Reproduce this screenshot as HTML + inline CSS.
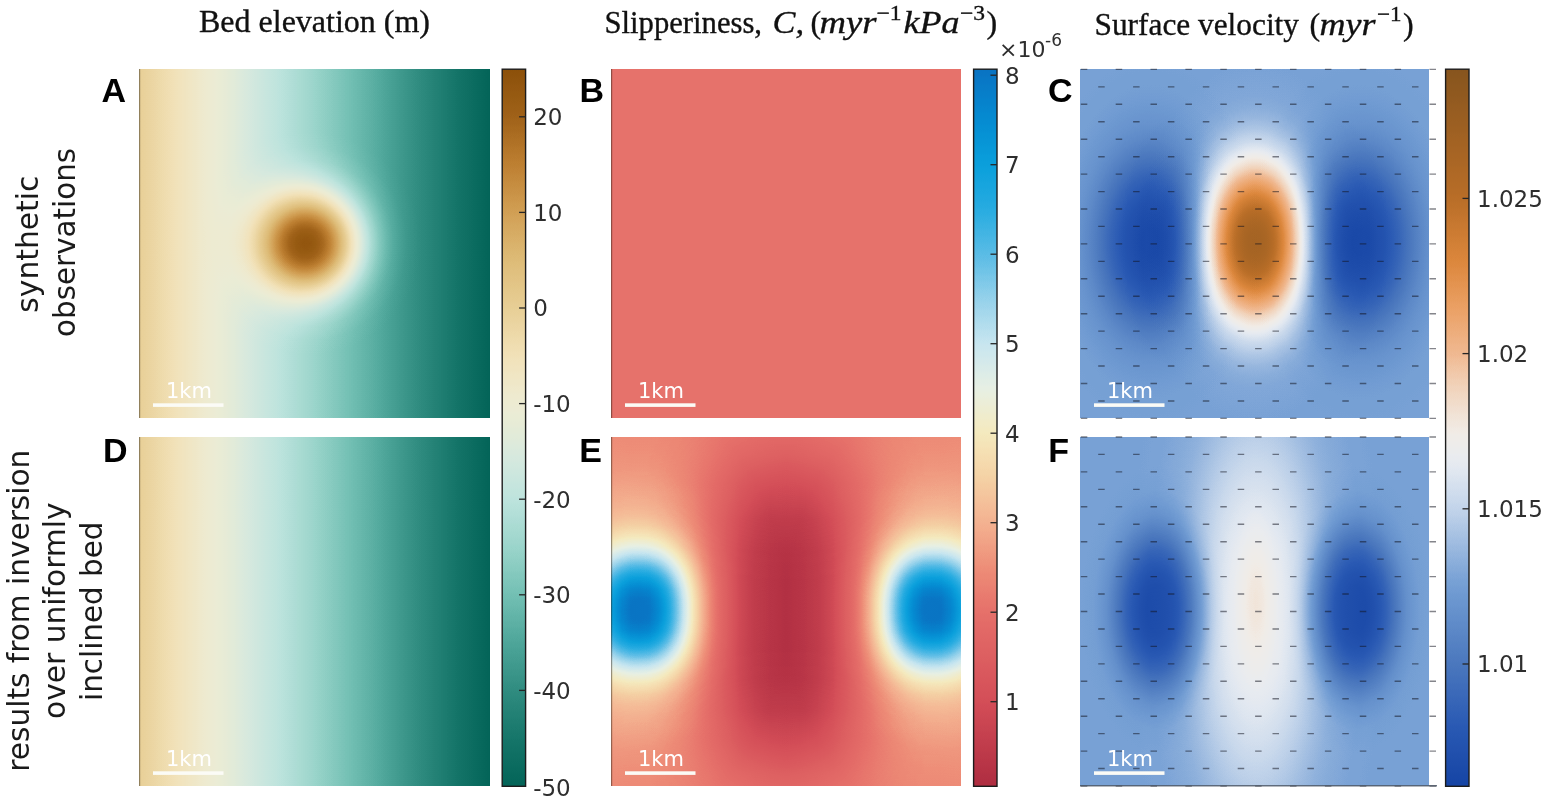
<!DOCTYPE html>
<html><head><meta charset="utf-8"><title>Figure</title><style>
html,body{margin:0;padding:0;background:#fff;overflow:hidden}
body{width:1547px;height:802px;overflow:hidden;position:relative}
svg{position:absolute;left:0;top:0;display:block}
.ti{font-family:"Liberation Serif",serif;font-size:32px;fill:#111;stroke:#111;stroke-width:0.35px}
.tk{font-family:"DejaVu Sans","Liberation Sans",sans-serif;font-size:23px;fill:#2e2e2e}
.pl{font-family:"Liberation Sans",sans-serif;font-weight:bold;font-size:34px;fill:#000}
.rl{font-family:"DejaVu Sans","Liberation Sans",sans-serif;font-size:29.5px;fill:#1a1a1a}
.sb{font-family:"DejaVu Sans","Liberation Sans",sans-serif;font-size:21px;fill:#fff;text-anchor:middle}
</style></head>
<body><svg width="1547" height="802" viewBox="0 0 1547 802">
<defs><filter id="cmA" color-interpolation-filters="sRGB" x="0" y="0" width="1" height="1" filterUnits="objectBoundingBox"><feComponentTransfer><feFuncR type="table" tableValues="0.0118 0.0295 0.0472 0.0650 0.0827 0.1057 0.1300 0.1542 0.1785 0.2050 0.2331 0.2611 0.2891 0.3197 0.3542 0.3888 0.4233 0.4585 0.4958 0.5331 0.5705 0.6078 0.6405 0.6732 0.7059 0.7386 0.7660 0.7922 0.8183 0.8444 0.8683 0.8908 0.9094 0.9244 0.9348 0.9386 0.9423 0.9460 0.9472 0.9378 0.9285 0.9191 0.9098 0.9005 0.8911 0.8818 0.8725 0.8616 0.8504 0.8392 0.8280 0.8123 0.7937 0.7750 0.7563 0.7339 0.7059 0.6779 0.6499 0.6237 0.6050 0.5864 0.5677 0.5490"/><feFuncG type="table" tableValues="0.3922 0.4090 0.4258 0.4426 0.4594 0.4792 0.4997 0.5203 0.5408 0.5636 0.5879 0.6121 0.6364 0.6607 0.6850 0.7092 0.7335 0.7569 0.7765 0.7961 0.8157 0.8353 0.8493 0.8633 0.8773 0.8913 0.8986 0.9042 0.9098 0.9154 0.9199 0.9236 0.9255 0.9255 0.9218 0.9124 0.9031 0.8937 0.8827 0.8650 0.8472 0.8295 0.8118 0.7940 0.7763 0.7585 0.7408 0.7163 0.6902 0.6641 0.6379 0.6095 0.5796 0.5498 0.5199 0.4908 0.4627 0.4347 0.4067 0.3811 0.3653 0.3494 0.3335 0.3176"/><feFuncB type="table" tableValues="0.3451 0.3619 0.3787 0.3955 0.4123 0.4321 0.4527 0.4732 0.4937 0.5165 0.5408 0.5651 0.5894 0.6136 0.6379 0.6622 0.6865 0.7102 0.7317 0.7531 0.7746 0.7961 0.8138 0.8316 0.8493 0.8670 0.8706 0.8706 0.8706 0.8706 0.8627 0.8497 0.8403 0.8347 0.8213 0.7961 0.7709 0.7457 0.7190 0.6863 0.6536 0.6209 0.5882 0.5602 0.5322 0.5042 0.4762 0.4444 0.4118 0.3791 0.3464 0.3137 0.2810 0.2484 0.2157 0.1867 0.1634 0.1401 0.1167 0.0952 0.0812 0.0672 0.0532 0.0392"/></feComponentTransfer></filter>
<filter id="cmB" color-interpolation-filters="sRGB" x="0" y="0" width="1" height="1" filterUnits="objectBoundingBox"><feComponentTransfer><feFuncR type="table" tableValues="0.6863 0.7059 0.7255 0.7452 0.7648 0.7844 0.8040 0.8237 0.8368 0.8458 0.8548 0.8637 0.8727 0.8817 0.8907 0.8996 0.9079 0.9159 0.9238 0.9318 0.9382 0.9442 0.9501 0.9561 0.9577 0.9587 0.9597 0.9607 0.9608 0.9608 0.9608 0.9606 0.9477 0.9347 0.9217 0.9073 0.8754 0.8435 0.8116 0.7770 0.7272 0.6773 0.6275 0.5755 0.5156 0.4558 0.3960 0.3389 0.2891 0.2392 0.1894 0.1464 0.1165 0.0866 0.0567 0.0371 0.0322 0.0272 0.0222 0.0217 0.0261 0.0305 0.0348 0.0392"/><feFuncG type="table" tableValues="0.1765 0.1940 0.2115 0.2290 0.2465 0.2640 0.2815 0.2990 0.3162 0.3331 0.3501 0.3670 0.3840 0.4009 0.4179 0.4348 0.4614 0.4913 0.5212 0.5511 0.5859 0.6218 0.6577 0.6936 0.7260 0.7579 0.7898 0.8217 0.8461 0.8701 0.8940 0.9177 0.9237 0.9297 0.9357 0.9404 0.9304 0.9204 0.9105 0.8990 0.8791 0.8592 0.8392 0.8188 0.7969 0.7750 0.7530 0.7328 0.7168 0.7009 0.6849 0.6703 0.6584 0.6464 0.6344 0.6192 0.5992 0.5793 0.5593 0.5385 0.5166 0.4947 0.4728 0.4510"/><feFuncB type="table" tableValues="0.2549 0.2671 0.2793 0.2915 0.3037 0.3159 0.3281 0.3403 0.3505 0.3595 0.3685 0.3775 0.3864 0.3954 0.4044 0.4134 0.4260 0.4400 0.4540 0.4679 0.4908 0.5157 0.5406 0.5655 0.5861 0.6061 0.6260 0.6459 0.6706 0.6955 0.7204 0.7455 0.7834 0.8213 0.8592 0.8951 0.9070 0.9190 0.9310 0.9404 0.9355 0.9305 0.9255 0.9205 0.9155 0.9105 0.9055 0.9006 0.8956 0.8906 0.8856 0.8806 0.8756 0.8706 0.8657 0.8586 0.8486 0.8387 0.8287 0.8172 0.8041 0.7909 0.7778 0.7647"/></feComponentTransfer></filter>
<filter id="cmC" color-interpolation-filters="sRGB" x="0" y="0" width="1" height="1" filterUnits="objectBoundingBox"><feComponentTransfer><feFuncR type="table" tableValues="0.0863 0.1010 0.1158 0.1306 0.1453 0.1601 0.1810 0.2048 0.2285 0.2522 0.2760 0.2996 0.3226 0.3456 0.3686 0.3917 0.4147 0.4377 0.4705 0.5166 0.5626 0.6087 0.6547 0.7008 0.7468 0.7864 0.8219 0.8574 0.8929 0.9174 0.9317 0.9461 0.9490 0.9490 0.9490 0.9490 0.9470 0.9441 0.9412 0.9364 0.9316 0.9268 0.9220 0.9086 0.8942 0.8798 0.8654 0.8423 0.8171 0.7919 0.7667 0.7415 0.7192 0.7020 0.6847 0.6675 0.6502 0.6329 0.6157 0.5984 0.5812 0.5639 0.5467 0.5294"/><feFuncG type="table" tableValues="0.2667 0.2829 0.2991 0.3154 0.3316 0.3478 0.3678 0.3893 0.4109 0.4325 0.4541 0.4758 0.4976 0.5195 0.5414 0.5633 0.5851 0.6070 0.6330 0.6647 0.6964 0.7280 0.7597 0.7913 0.8230 0.8488 0.8709 0.8929 0.9150 0.9255 0.9255 0.9255 0.9055 0.8806 0.8556 0.8307 0.7979 0.7619 0.7259 0.7018 0.6778 0.6538 0.6298 0.6059 0.5819 0.5579 0.5339 0.5148 0.4968 0.4788 0.4608 0.4428 0.4282 0.4196 0.4110 0.4024 0.3937 0.3851 0.3765 0.3678 0.3592 0.3506 0.3420 0.3333"/><feFuncB type="table" tableValues="0.6471 0.6581 0.6692 0.6803 0.6913 0.7024 0.7108 0.7180 0.7252 0.7324 0.7396 0.7481 0.7608 0.7734 0.7861 0.7988 0.8114 0.8241 0.8370 0.8502 0.8635 0.8767 0.8900 0.9032 0.9164 0.9257 0.9324 0.9391 0.9458 0.9400 0.9227 0.9054 0.8674 0.8243 0.7811 0.7379 0.6845 0.6269 0.5693 0.5260 0.4828 0.4396 0.3965 0.3576 0.3192 0.2809 0.2425 0.2236 0.2092 0.1948 0.1804 0.1660 0.1556 0.1522 0.1487 0.1453 0.1418 0.1384 0.1349 0.1315 0.1280 0.1245 0.1211 0.1176"/></feComponentTransfer></filter>
<linearGradient id="l1" x1="0" y1="0" x2="1" y2="0"><stop offset="0.0000" stop-color="rgb(170,170,170)"/><stop offset="0.0833" stop-color="rgb(156,156,156)"/><stop offset="0.1667" stop-color="rgb(142,142,142)"/><stop offset="0.2500" stop-color="rgb(128,128,128)"/><stop offset="0.3333" stop-color="rgb(113,113,113)"/><stop offset="0.4167" stop-color="rgb(99,99,99)"/><stop offset="0.5000" stop-color="rgb(85,85,85)"/><stop offset="0.5833" stop-color="rgb(71,71,71)"/><stop offset="0.6667" stop-color="rgb(57,57,57)"/><stop offset="0.7500" stop-color="rgb(42,42,42)"/><stop offset="0.8333" stop-color="rgb(28,28,28)"/><stop offset="0.9167" stop-color="rgb(14,14,14)"/><stop offset="1.0000" stop-color="rgb(0,0,0)"/></linearGradient>
<clipPath id="clipA1"><rect x="139" y="69" width="351" height="349"/></clipPath>
<radialGradient id="g2"><stop offset="0.000" stop-color="rgb(162,162,162)"/><stop offset="0.062" stop-color="rgb(159,159,159)"/><stop offset="0.125" stop-color="rgb(152,152,152)"/><stop offset="0.188" stop-color="rgb(140,140,140)"/><stop offset="0.250" stop-color="rgb(124,124,124)"/><stop offset="0.312" stop-color="rgb(105,105,105)"/><stop offset="0.375" stop-color="rgb(84,84,84)"/><stop offset="0.438" stop-color="rgb(65,65,65)"/><stop offset="0.500" stop-color="rgb(48,48,48)"/><stop offset="0.562" stop-color="rgb(33,33,33)"/><stop offset="0.625" stop-color="rgb(22,22,22)"/><stop offset="0.688" stop-color="rgb(14,14,14)"/><stop offset="0.750" stop-color="rgb(8,8,8)"/><stop offset="0.812" stop-color="rgb(5,5,5)"/><stop offset="0.875" stop-color="rgb(2,2,2)"/><stop offset="0.938" stop-color="rgb(1,1,1)"/><stop offset="1.000" stop-color="rgb(0,0,0)"/></radialGradient>
<clipPath id="clipA2"><rect x="139" y="437" width="351" height="349"/></clipPath>
<clipPath id="clipB1"><rect x="611" y="69" width="350" height="349"/></clipPath>
<clipPath id="clipB2"><rect x="611" y="437" width="350" height="349"/></clipPath>
<linearGradient id="p3" x1="0" y1="0" x2="1" y2="0"><stop offset="0.0000" stop-color="rgb(0,0,0)"/><stop offset="0.0417" stop-color="rgb(0,0,0)"/><stop offset="0.0833" stop-color="rgb(2,2,2)"/><stop offset="0.1250" stop-color="rgb(4,4,4)"/><stop offset="0.1667" stop-color="rgb(10,10,10)"/><stop offset="0.2083" stop-color="rgb(21,21,21)"/><stop offset="0.2500" stop-color="rgb(37,37,37)"/><stop offset="0.2917" stop-color="rgb(60,60,60)"/><stop offset="0.3333" stop-color="rgb(85,85,85)"/><stop offset="0.3750" stop-color="rgb(109,109,109)"/><stop offset="0.4167" stop-color="rgb(127,127,127)"/><stop offset="0.4583" stop-color="rgb(138,138,138)"/><stop offset="0.5000" stop-color="rgb(140,140,140)"/><stop offset="0.5417" stop-color="rgb(138,138,138)"/><stop offset="0.5833" stop-color="rgb(127,127,127)"/><stop offset="0.6250" stop-color="rgb(109,109,109)"/><stop offset="0.6667" stop-color="rgb(85,85,85)"/><stop offset="0.7083" stop-color="rgb(60,60,60)"/><stop offset="0.7500" stop-color="rgb(37,37,37)"/><stop offset="0.7917" stop-color="rgb(21,21,21)"/><stop offset="0.8333" stop-color="rgb(10,10,10)"/><stop offset="0.8750" stop-color="rgb(4,4,4)"/><stop offset="0.9167" stop-color="rgb(2,2,2)"/><stop offset="0.9583" stop-color="rgb(0,0,0)"/><stop offset="1.0000" stop-color="rgb(0,0,0)"/></linearGradient>
<linearGradient id="p4" x1="0" y1="0" x2="0" y2="1"><stop offset="0.0000" stop-color="rgb(0,0,0)"/><stop offset="0.0417" stop-color="rgb(1,1,1)"/><stop offset="0.0833" stop-color="rgb(3,3,3)"/><stop offset="0.1250" stop-color="rgb(8,8,8)"/><stop offset="0.1667" stop-color="rgb(18,18,18)"/><stop offset="0.2083" stop-color="rgb(38,38,38)"/><stop offset="0.2500" stop-color="rgb(68,68,68)"/><stop offset="0.2917" stop-color="rgb(109,109,109)"/><stop offset="0.3333" stop-color="rgb(155,155,155)"/><stop offset="0.3750" stop-color="rgb(198,198,198)"/><stop offset="0.4167" stop-color="rgb(232,232,232)"/><stop offset="0.4583" stop-color="rgb(250,250,250)"/><stop offset="0.5000" stop-color="rgb(255,255,255)"/><stop offset="0.5417" stop-color="rgb(250,250,250)"/><stop offset="0.5833" stop-color="rgb(232,232,232)"/><stop offset="0.6250" stop-color="rgb(198,198,198)"/><stop offset="0.6667" stop-color="rgb(155,155,155)"/><stop offset="0.7083" stop-color="rgb(109,109,109)"/><stop offset="0.7500" stop-color="rgb(68,68,68)"/><stop offset="0.7917" stop-color="rgb(38,38,38)"/><stop offset="0.8333" stop-color="rgb(18,18,18)"/><stop offset="0.8750" stop-color="rgb(8,8,8)"/><stop offset="0.9167" stop-color="rgb(3,3,3)"/><stop offset="0.9583" stop-color="rgb(1,1,1)"/><stop offset="1.0000" stop-color="rgb(0,0,0)"/></linearGradient>
<radialGradient id="g5"><stop offset="0.000" stop-color="rgb(48,48,48)"/><stop offset="0.062" stop-color="rgb(47,47,47)"/><stop offset="0.125" stop-color="rgb(45,45,45)"/><stop offset="0.188" stop-color="rgb(41,41,41)"/><stop offset="0.250" stop-color="rgb(36,36,36)"/><stop offset="0.312" stop-color="rgb(31,31,31)"/><stop offset="0.375" stop-color="rgb(25,25,25)"/><stop offset="0.438" stop-color="rgb(20,20,20)"/><stop offset="0.500" stop-color="rgb(16,16,16)"/><stop offset="0.562" stop-color="rgb(11,11,11)"/><stop offset="0.625" stop-color="rgb(8,8,8)"/><stop offset="0.688" stop-color="rgb(6,6,6)"/><stop offset="0.750" stop-color="rgb(4,4,4)"/><stop offset="0.812" stop-color="rgb(2,2,2)"/><stop offset="0.875" stop-color="rgb(2,2,2)"/><stop offset="0.938" stop-color="rgb(1,1,1)"/><stop offset="1.000" stop-color="rgb(0,0,0)"/></radialGradient>
<linearGradient id="p6" x1="0" y1="0" x2="1" y2="0"><stop offset="0.0000" stop-color="rgb(0,0,0)"/><stop offset="0.0417" stop-color="rgb(0,0,0)"/><stop offset="0.0833" stop-color="rgb(2,2,2)"/><stop offset="0.1250" stop-color="rgb(4,4,4)"/><stop offset="0.1667" stop-color="rgb(10,10,10)"/><stop offset="0.2083" stop-color="rgb(21,21,21)"/><stop offset="0.2500" stop-color="rgb(37,37,37)"/><stop offset="0.2917" stop-color="rgb(60,60,60)"/><stop offset="0.3333" stop-color="rgb(85,85,85)"/><stop offset="0.3750" stop-color="rgb(109,109,109)"/><stop offset="0.4167" stop-color="rgb(127,127,127)"/><stop offset="0.4583" stop-color="rgb(138,138,138)"/><stop offset="0.5000" stop-color="rgb(140,140,140)"/><stop offset="0.5417" stop-color="rgb(138,138,138)"/><stop offset="0.5833" stop-color="rgb(127,127,127)"/><stop offset="0.6250" stop-color="rgb(109,109,109)"/><stop offset="0.6667" stop-color="rgb(85,85,85)"/><stop offset="0.7083" stop-color="rgb(60,60,60)"/><stop offset="0.7500" stop-color="rgb(37,37,37)"/><stop offset="0.7917" stop-color="rgb(21,21,21)"/><stop offset="0.8333" stop-color="rgb(10,10,10)"/><stop offset="0.8750" stop-color="rgb(4,4,4)"/><stop offset="0.9167" stop-color="rgb(2,2,2)"/><stop offset="0.9583" stop-color="rgb(0,0,0)"/><stop offset="1.0000" stop-color="rgb(0,0,0)"/></linearGradient>
<linearGradient id="p7" x1="0" y1="0" x2="0" y2="1"><stop offset="0.0000" stop-color="rgb(0,0,0)"/><stop offset="0.0417" stop-color="rgb(1,1,1)"/><stop offset="0.0833" stop-color="rgb(3,3,3)"/><stop offset="0.1250" stop-color="rgb(8,8,8)"/><stop offset="0.1667" stop-color="rgb(18,18,18)"/><stop offset="0.2083" stop-color="rgb(38,38,38)"/><stop offset="0.2500" stop-color="rgb(68,68,68)"/><stop offset="0.2917" stop-color="rgb(109,109,109)"/><stop offset="0.3333" stop-color="rgb(155,155,155)"/><stop offset="0.3750" stop-color="rgb(198,198,198)"/><stop offset="0.4167" stop-color="rgb(232,232,232)"/><stop offset="0.4583" stop-color="rgb(250,250,250)"/><stop offset="0.5000" stop-color="rgb(255,255,255)"/><stop offset="0.5417" stop-color="rgb(250,250,250)"/><stop offset="0.5833" stop-color="rgb(232,232,232)"/><stop offset="0.6250" stop-color="rgb(198,198,198)"/><stop offset="0.6667" stop-color="rgb(155,155,155)"/><stop offset="0.7083" stop-color="rgb(109,109,109)"/><stop offset="0.7500" stop-color="rgb(68,68,68)"/><stop offset="0.7917" stop-color="rgb(38,38,38)"/><stop offset="0.8333" stop-color="rgb(18,18,18)"/><stop offset="0.8750" stop-color="rgb(8,8,8)"/><stop offset="0.9167" stop-color="rgb(3,3,3)"/><stop offset="0.9583" stop-color="rgb(1,1,1)"/><stop offset="1.0000" stop-color="rgb(0,0,0)"/></linearGradient>
<radialGradient id="g8"><stop offset="0.000" stop-color="rgb(48,48,48)"/><stop offset="0.062" stop-color="rgb(47,47,47)"/><stop offset="0.125" stop-color="rgb(45,45,45)"/><stop offset="0.188" stop-color="rgb(41,41,41)"/><stop offset="0.250" stop-color="rgb(36,36,36)"/><stop offset="0.312" stop-color="rgb(31,31,31)"/><stop offset="0.375" stop-color="rgb(25,25,25)"/><stop offset="0.438" stop-color="rgb(20,20,20)"/><stop offset="0.500" stop-color="rgb(16,16,16)"/><stop offset="0.562" stop-color="rgb(11,11,11)"/><stop offset="0.625" stop-color="rgb(8,8,8)"/><stop offset="0.688" stop-color="rgb(6,6,6)"/><stop offset="0.750" stop-color="rgb(4,4,4)"/><stop offset="0.812" stop-color="rgb(2,2,2)"/><stop offset="0.875" stop-color="rgb(2,2,2)"/><stop offset="0.938" stop-color="rgb(1,1,1)"/><stop offset="1.000" stop-color="rgb(0,0,0)"/></radialGradient>
<linearGradient id="p9" x1="0" y1="0" x2="1" y2="0"><stop offset="0.0000" stop-color="rgb(0,0,0)"/><stop offset="0.0417" stop-color="rgb(0,0,0)"/><stop offset="0.0833" stop-color="rgb(1,1,1)"/><stop offset="0.1250" stop-color="rgb(2,2,2)"/><stop offset="0.1667" stop-color="rgb(5,5,5)"/><stop offset="0.2083" stop-color="rgb(11,11,11)"/><stop offset="0.2500" stop-color="rgb(19,19,19)"/><stop offset="0.2917" stop-color="rgb(30,30,30)"/><stop offset="0.3333" stop-color="rgb(43,43,43)"/><stop offset="0.3750" stop-color="rgb(56,56,56)"/><stop offset="0.4167" stop-color="rgb(65,65,65)"/><stop offset="0.4583" stop-color="rgb(70,70,70)"/><stop offset="0.5000" stop-color="rgb(72,72,72)"/><stop offset="0.5417" stop-color="rgb(70,70,70)"/><stop offset="0.5833" stop-color="rgb(65,65,65)"/><stop offset="0.6250" stop-color="rgb(56,56,56)"/><stop offset="0.6667" stop-color="rgb(43,43,43)"/><stop offset="0.7083" stop-color="rgb(30,30,30)"/><stop offset="0.7500" stop-color="rgb(19,19,19)"/><stop offset="0.7917" stop-color="rgb(11,11,11)"/><stop offset="0.8333" stop-color="rgb(5,5,5)"/><stop offset="0.8750" stop-color="rgb(2,2,2)"/><stop offset="0.9167" stop-color="rgb(1,1,1)"/><stop offset="0.9583" stop-color="rgb(0,0,0)"/><stop offset="1.0000" stop-color="rgb(0,0,0)"/></linearGradient>
<linearGradient id="p10" x1="0" y1="0" x2="0" y2="1"><stop offset="0.0000" stop-color="rgb(0,0,0)"/><stop offset="0.0417" stop-color="rgb(0,0,0)"/><stop offset="0.0833" stop-color="rgb(0,0,0)"/><stop offset="0.1250" stop-color="rgb(0,0,0)"/><stop offset="0.1667" stop-color="rgb(1,1,1)"/><stop offset="0.2083" stop-color="rgb(6,6,6)"/><stop offset="0.2500" stop-color="rgb(30,30,30)"/><stop offset="0.2917" stop-color="rgb(83,83,83)"/><stop offset="0.3333" stop-color="rgb(155,155,155)"/><stop offset="0.3750" stop-color="rgb(214,214,214)"/><stop offset="0.4167" stop-color="rgb(245,245,245)"/><stop offset="0.4583" stop-color="rgb(254,254,254)"/><stop offset="0.5000" stop-color="rgb(255,255,255)"/><stop offset="0.5417" stop-color="rgb(254,254,254)"/><stop offset="0.5833" stop-color="rgb(245,245,245)"/><stop offset="0.6250" stop-color="rgb(214,214,214)"/><stop offset="0.6667" stop-color="rgb(155,155,155)"/><stop offset="0.7083" stop-color="rgb(83,83,83)"/><stop offset="0.7500" stop-color="rgb(30,30,30)"/><stop offset="0.7917" stop-color="rgb(6,6,6)"/><stop offset="0.8333" stop-color="rgb(1,1,1)"/><stop offset="0.8750" stop-color="rgb(0,0,0)"/><stop offset="0.9167" stop-color="rgb(0,0,0)"/><stop offset="0.9583" stop-color="rgb(0,0,0)"/><stop offset="1.0000" stop-color="rgb(0,0,0)"/></linearGradient>
<clipPath id="clipC1"><rect x="1080" y="69" width="349" height="349"/></clipPath>
<radialGradient id="g11"><stop offset="0.000" stop-color="rgb(156,156,156)"/><stop offset="0.062" stop-color="rgb(154,154,154)"/><stop offset="0.125" stop-color="rgb(148,148,148)"/><stop offset="0.188" stop-color="rgb(136,136,136)"/><stop offset="0.250" stop-color="rgb(120,120,120)"/><stop offset="0.312" stop-color="rgb(101,101,101)"/><stop offset="0.375" stop-color="rgb(81,81,81)"/><stop offset="0.438" stop-color="rgb(61,61,61)"/><stop offset="0.500" stop-color="rgb(44,44,44)"/><stop offset="0.562" stop-color="rgb(29,29,29)"/><stop offset="0.625" stop-color="rgb(19,19,19)"/><stop offset="0.688" stop-color="rgb(11,11,11)"/><stop offset="0.750" stop-color="rgb(6,6,6)"/><stop offset="0.812" stop-color="rgb(3,3,3)"/><stop offset="0.875" stop-color="rgb(2,2,2)"/><stop offset="0.938" stop-color="rgb(1,1,1)"/><stop offset="1.000" stop-color="rgb(0,0,0)"/></radialGradient>
<radialGradient id="g12"><stop offset="0.000" stop-color="rgb(65,65,65)"/><stop offset="0.062" stop-color="rgb(65,65,65)"/><stop offset="0.125" stop-color="rgb(62,62,62)"/><stop offset="0.188" stop-color="rgb(58,58,58)"/><stop offset="0.250" stop-color="rgb(51,51,51)"/><stop offset="0.312" stop-color="rgb(43,43,43)"/><stop offset="0.375" stop-color="rgb(33,33,33)"/><stop offset="0.438" stop-color="rgb(24,24,24)"/><stop offset="0.500" stop-color="rgb(16,16,16)"/><stop offset="0.562" stop-color="rgb(10,10,10)"/><stop offset="0.625" stop-color="rgb(6,6,6)"/><stop offset="0.688" stop-color="rgb(3,3,3)"/><stop offset="0.750" stop-color="rgb(1,1,1)"/><stop offset="0.812" stop-color="rgb(1,1,1)"/><stop offset="0.875" stop-color="rgb(0,0,0)"/><stop offset="0.938" stop-color="rgb(0,0,0)"/><stop offset="1.000" stop-color="rgb(0,0,0)"/></radialGradient>
<radialGradient id="g13"><stop offset="0.000" stop-color="rgb(65,65,65)"/><stop offset="0.062" stop-color="rgb(65,65,65)"/><stop offset="0.125" stop-color="rgb(62,62,62)"/><stop offset="0.188" stop-color="rgb(58,58,58)"/><stop offset="0.250" stop-color="rgb(51,51,51)"/><stop offset="0.312" stop-color="rgb(43,43,43)"/><stop offset="0.375" stop-color="rgb(33,33,33)"/><stop offset="0.438" stop-color="rgb(24,24,24)"/><stop offset="0.500" stop-color="rgb(16,16,16)"/><stop offset="0.562" stop-color="rgb(10,10,10)"/><stop offset="0.625" stop-color="rgb(6,6,6)"/><stop offset="0.688" stop-color="rgb(3,3,3)"/><stop offset="0.750" stop-color="rgb(1,1,1)"/><stop offset="0.812" stop-color="rgb(1,1,1)"/><stop offset="0.875" stop-color="rgb(0,0,0)"/><stop offset="0.938" stop-color="rgb(0,0,0)"/><stop offset="1.000" stop-color="rgb(0,0,0)"/></radialGradient>
<radialGradient id="g14"><stop offset="0.000" stop-color="rgb(7,7,7)"/><stop offset="0.062" stop-color="rgb(7,7,7)"/><stop offset="0.125" stop-color="rgb(6,6,6)"/><stop offset="0.188" stop-color="rgb(6,6,6)"/><stop offset="0.250" stop-color="rgb(5,5,5)"/><stop offset="0.312" stop-color="rgb(4,4,4)"/><stop offset="0.375" stop-color="rgb(3,3,3)"/><stop offset="0.438" stop-color="rgb(3,3,3)"/><stop offset="0.500" stop-color="rgb(2,2,2)"/><stop offset="0.562" stop-color="rgb(1,1,1)"/><stop offset="0.625" stop-color="rgb(1,1,1)"/><stop offset="0.688" stop-color="rgb(1,1,1)"/><stop offset="0.750" stop-color="rgb(0,0,0)"/><stop offset="0.812" stop-color="rgb(0,0,0)"/><stop offset="0.875" stop-color="rgb(0,0,0)"/><stop offset="0.938" stop-color="rgb(0,0,0)"/><stop offset="1.000" stop-color="rgb(0,0,0)"/></radialGradient>
<radialGradient id="g15"><stop offset="0.000" stop-color="rgb(7,7,7)"/><stop offset="0.062" stop-color="rgb(7,7,7)"/><stop offset="0.125" stop-color="rgb(6,6,6)"/><stop offset="0.188" stop-color="rgb(6,6,6)"/><stop offset="0.250" stop-color="rgb(5,5,5)"/><stop offset="0.312" stop-color="rgb(4,4,4)"/><stop offset="0.375" stop-color="rgb(3,3,3)"/><stop offset="0.438" stop-color="rgb(3,3,3)"/><stop offset="0.500" stop-color="rgb(2,2,2)"/><stop offset="0.562" stop-color="rgb(1,1,1)"/><stop offset="0.625" stop-color="rgb(1,1,1)"/><stop offset="0.688" stop-color="rgb(1,1,1)"/><stop offset="0.750" stop-color="rgb(0,0,0)"/><stop offset="0.812" stop-color="rgb(0,0,0)"/><stop offset="0.875" stop-color="rgb(0,0,0)"/><stop offset="0.938" stop-color="rgb(0,0,0)"/><stop offset="1.000" stop-color="rgb(0,0,0)"/></radialGradient>
<clipPath id="clipC2"><rect x="1080" y="437" width="349" height="349"/></clipPath>
<radialGradient id="g16"><stop offset="0.000" stop-color="rgb(49,49,49)"/><stop offset="0.062" stop-color="rgb(48,48,48)"/><stop offset="0.125" stop-color="rgb(46,46,46)"/><stop offset="0.188" stop-color="rgb(43,43,43)"/><stop offset="0.250" stop-color="rgb(38,38,38)"/><stop offset="0.312" stop-color="rgb(32,32,32)"/><stop offset="0.375" stop-color="rgb(25,25,25)"/><stop offset="0.438" stop-color="rgb(19,19,19)"/><stop offset="0.500" stop-color="rgb(13,13,13)"/><stop offset="0.562" stop-color="rgb(8,8,8)"/><stop offset="0.625" stop-color="rgb(5,5,5)"/><stop offset="0.688" stop-color="rgb(3,3,3)"/><stop offset="0.750" stop-color="rgb(1,1,1)"/><stop offset="0.812" stop-color="rgb(1,1,1)"/><stop offset="0.875" stop-color="rgb(0,0,0)"/><stop offset="0.938" stop-color="rgb(0,0,0)"/><stop offset="1.000" stop-color="rgb(0,0,0)"/></radialGradient>
<radialGradient id="g17"><stop offset="0.000" stop-color="rgb(9,9,9)"/><stop offset="0.062" stop-color="rgb(9,9,9)"/><stop offset="0.125" stop-color="rgb(8,8,8)"/><stop offset="0.188" stop-color="rgb(8,8,8)"/><stop offset="0.250" stop-color="rgb(7,7,7)"/><stop offset="0.312" stop-color="rgb(6,6,6)"/><stop offset="0.375" stop-color="rgb(5,5,5)"/><stop offset="0.438" stop-color="rgb(4,4,4)"/><stop offset="0.500" stop-color="rgb(3,3,3)"/><stop offset="0.562" stop-color="rgb(2,2,2)"/><stop offset="0.625" stop-color="rgb(2,2,2)"/><stop offset="0.688" stop-color="rgb(1,1,1)"/><stop offset="0.750" stop-color="rgb(1,1,1)"/><stop offset="0.812" stop-color="rgb(0,0,0)"/><stop offset="0.875" stop-color="rgb(0,0,0)"/><stop offset="0.938" stop-color="rgb(0,0,0)"/><stop offset="1.000" stop-color="rgb(0,0,0)"/></radialGradient>
<radialGradient id="g18"><stop offset="0.000" stop-color="rgb(67,67,67)"/><stop offset="0.062" stop-color="rgb(67,67,67)"/><stop offset="0.125" stop-color="rgb(66,66,66)"/><stop offset="0.188" stop-color="rgb(62,62,62)"/><stop offset="0.250" stop-color="rgb(54,54,54)"/><stop offset="0.312" stop-color="rgb(45,45,45)"/><stop offset="0.375" stop-color="rgb(33,33,33)"/><stop offset="0.438" stop-color="rgb(22,22,22)"/><stop offset="0.500" stop-color="rgb(12,12,12)"/><stop offset="0.562" stop-color="rgb(6,6,6)"/><stop offset="0.625" stop-color="rgb(2,2,2)"/><stop offset="0.688" stop-color="rgb(1,1,1)"/><stop offset="0.750" stop-color="rgb(0,0,0)"/><stop offset="0.812" stop-color="rgb(0,0,0)"/><stop offset="0.875" stop-color="rgb(0,0,0)"/><stop offset="0.938" stop-color="rgb(0,0,0)"/><stop offset="1.000" stop-color="rgb(0,0,0)"/></radialGradient>
<radialGradient id="g19"><stop offset="0.000" stop-color="rgb(67,67,67)"/><stop offset="0.062" stop-color="rgb(67,67,67)"/><stop offset="0.125" stop-color="rgb(66,66,66)"/><stop offset="0.188" stop-color="rgb(62,62,62)"/><stop offset="0.250" stop-color="rgb(54,54,54)"/><stop offset="0.312" stop-color="rgb(45,45,45)"/><stop offset="0.375" stop-color="rgb(33,33,33)"/><stop offset="0.438" stop-color="rgb(22,22,22)"/><stop offset="0.500" stop-color="rgb(12,12,12)"/><stop offset="0.562" stop-color="rgb(6,6,6)"/><stop offset="0.625" stop-color="rgb(2,2,2)"/><stop offset="0.688" stop-color="rgb(1,1,1)"/><stop offset="0.750" stop-color="rgb(0,0,0)"/><stop offset="0.812" stop-color="rgb(0,0,0)"/><stop offset="0.875" stop-color="rgb(0,0,0)"/><stop offset="0.938" stop-color="rgb(0,0,0)"/><stop offset="1.000" stop-color="rgb(0,0,0)"/></radialGradient>
<linearGradient id="l20" x1="0" y1="0" x2="0" y2="1"><stop offset="0.0000" stop-color="rgb(255,255,255)"/><stop offset="1.0000" stop-color="rgb(0,0,0)"/></linearGradient></defs>
<g clip-path="url(#clipA1)"><g filter="url(#cmA)" style="isolation:isolate"><rect x="139" y="69" width="351" height="349" fill="url(#l1)"/><ellipse cx="310.0" cy="243.5" rx="111.0" ry="111.0" fill="url(#g2)" style="mix-blend-mode:plus-lighter"/></g></g>
<g clip-path="url(#clipA2)"><g filter="url(#cmA)" style="isolation:isolate"><rect x="139" y="437" width="351" height="349" fill="url(#l1)"/></g></g>
<g clip-path="url(#clipB1)"><g filter="url(#cmB)" style="isolation:isolate"><rect x="611" y="69" width="350" height="349" fill="rgb(63,63,63)"/></g></g>
<g clip-path="url(#clipB2)"><g filter="url(#cmB)" style="isolation:isolate"><rect x="611" y="437" width="350" height="349" fill="rgb(71,71,71)"/><g style="mix-blend-mode:plus-lighter;isolation:isolate"><rect x="532.0" y="484.0" width="216.0" height="252.0" fill="url(#p3)"/><rect x="532.0" y="484.0" width="216.0" height="252.0" fill="url(#p4)" style="mix-blend-mode:multiply"/></g><ellipse cx="640.0" cy="609.5" rx="180.0" ry="255.0" fill="url(#g5)" style="mix-blend-mode:plus-lighter"/><g style="mix-blend-mode:plus-lighter;isolation:isolate"><rect x="824.0" y="484.0" width="216.0" height="252.0" fill="url(#p6)"/><rect x="824.0" y="484.0" width="216.0" height="252.0" fill="url(#p7)" style="mix-blend-mode:multiply"/></g><ellipse cx="932.0" cy="609.5" rx="180.0" ry="255.0" fill="url(#g8)" style="mix-blend-mode:plus-lighter"/><g style="mix-blend-mode:difference;isolation:isolate"><rect x="600.0" y="231.0" width="372.0" height="768.0" fill="url(#p9)"/><rect x="600.0" y="231.0" width="372.0" height="768.0" fill="url(#p10)" style="mix-blend-mode:multiply"/></g></g></g>
<g clip-path="url(#clipC1)"><g filter="url(#cmC)" style="isolation:isolate"><rect x="1080" y="69" width="349" height="349" fill="rgb(73,73,73)"/><ellipse cx="1255.0" cy="242.0" rx="114.0" ry="180.0" fill="url(#g11)" style="mix-blend-mode:plus-lighter"/><ellipse cx="1150.0" cy="242.0" rx="126.0" ry="210.0" fill="url(#g12)" style="mix-blend-mode:difference"/><ellipse cx="1360.0" cy="242.0" rx="126.0" ry="210.0" fill="url(#g13)" style="mix-blend-mode:difference"/><ellipse cx="1170.0" cy="242.0" rx="66.0" ry="165.0" fill="url(#g14)" style="mix-blend-mode:difference"/><ellipse cx="1340.0" cy="242.0" rx="66.0" ry="165.0" fill="url(#g15)" style="mix-blend-mode:difference"/></g></g>
<g clip-path="url(#clipC2)"><g filter="url(#cmC)" style="isolation:isolate"><rect x="1080" y="437" width="349" height="349" fill="rgb(73,73,73)"/><ellipse cx="1256.0" cy="610.0" rx="144.0" ry="435.0" fill="url(#g16)" style="mix-blend-mode:plus-lighter"/><ellipse cx="1256.0" cy="600.0" rx="27.0" ry="114.0" fill="url(#g17)" style="mix-blend-mode:plus-lighter"/><ellipse cx="1159.0" cy="610.0" rx="105.0" ry="192.0" fill="url(#g18)" style="mix-blend-mode:difference"/><ellipse cx="1354.0" cy="610.0" rx="105.0" ry="192.0" fill="url(#g19)" style="mix-blend-mode:difference"/></g></g>
<rect x="139" y="69" width="1.2" height="349" fill="rgba(40,30,20,0.45)"/>
<rect x="139" y="437" width="1.2" height="349" fill="rgba(40,30,20,0.45)"/>
<rect x="611" y="69" width="1.2" height="349" fill="rgba(40,30,20,0.45)"/>
<rect x="611" y="437" width="1.2" height="349" fill="rgba(40,30,20,0.45)"/>
<path d="M1080.8 69.4h6.5M1115.7 69.4h6.5M1150.5 69.4h6.5M1185.4 69.4h6.5M1220.3 69.4h6.5M1255.1 69.4h6.5M1290.0 69.4h6.5M1324.9 69.4h6.5M1359.8 69.4h6.5M1394.6 69.4h6.5M1429.5 69.4h6.5M1098.2 86.9h6.5M1133.1 86.9h6.5M1167.9 86.9h6.5M1202.8 86.9h6.5M1237.7 86.9h6.5M1272.5 86.9h6.5M1307.4 86.9h6.5M1342.3 86.9h6.5M1377.2 86.9h6.5M1412.0 86.9h6.5M1080.8 104.3h6.5M1115.7 104.3h6.5M1150.5 104.3h6.5M1185.4 104.3h6.5M1220.3 104.3h6.5M1255.1 104.3h6.5M1290.0 104.3h6.5M1324.9 104.3h6.5M1359.8 104.3h6.5M1394.6 104.3h6.5M1429.5 104.3h6.5M1098.2 121.8h6.5M1133.1 121.8h6.5M1167.9 121.8h6.5M1202.8 121.8h6.5M1237.7 121.8h6.5M1272.5 121.8h6.5M1307.4 121.8h6.5M1342.3 121.8h6.5M1377.2 121.8h6.5M1412.0 121.8h6.5M1080.8 139.2h6.5M1115.7 139.2h6.5M1150.5 139.2h6.5M1185.4 139.2h6.5M1220.3 139.2h6.5M1255.1 139.2h6.5M1290.0 139.2h6.5M1324.9 139.2h6.5M1359.8 139.2h6.5M1394.6 139.2h6.5M1429.5 139.2h6.5M1098.2 156.7h6.5M1133.1 156.7h6.5M1167.9 156.7h6.5M1202.8 156.7h6.5M1237.7 156.7h6.5M1272.5 156.7h6.5M1307.4 156.7h6.5M1342.3 156.7h6.5M1377.2 156.7h6.5M1412.0 156.7h6.5M1080.8 174.1h6.5M1115.7 174.1h6.5M1150.5 174.1h6.5M1185.4 174.1h6.5M1220.3 174.1h6.5M1255.1 174.1h6.5M1290.0 174.1h6.5M1324.9 174.1h6.5M1359.8 174.1h6.5M1394.6 174.1h6.5M1429.5 174.1h6.5M1098.2 191.6h6.5M1133.1 191.6h6.5M1167.9 191.6h6.5M1202.8 191.6h6.5M1237.7 191.6h6.5M1272.5 191.6h6.5M1307.4 191.6h6.5M1342.3 191.6h6.5M1377.2 191.6h6.5M1412.0 191.6h6.5M1080.8 209.0h6.5M1115.7 209.0h6.5M1150.5 209.0h6.5M1185.4 209.0h6.5M1220.3 209.0h6.5M1255.1 209.0h6.5M1290.0 209.0h6.5M1324.9 209.0h6.5M1359.8 209.0h6.5M1394.6 209.0h6.5M1429.5 209.0h6.5M1098.2 226.4h6.5M1133.1 226.4h6.5M1167.9 226.4h6.5M1202.8 226.4h6.5M1237.7 226.4h6.5M1272.5 226.4h6.5M1307.4 226.4h6.5M1342.3 226.4h6.5M1377.2 226.4h6.5M1412.0 226.4h6.5M1080.8 243.9h6.5M1115.7 243.9h6.5M1150.5 243.9h6.5M1185.4 243.9h6.5M1220.3 243.9h6.5M1255.1 243.9h6.5M1290.0 243.9h6.5M1324.9 243.9h6.5M1359.8 243.9h6.5M1394.6 243.9h6.5M1429.5 243.9h6.5M1098.2 261.4h6.5M1133.1 261.4h6.5M1167.9 261.4h6.5M1202.8 261.4h6.5M1237.7 261.4h6.5M1272.5 261.4h6.5M1307.4 261.4h6.5M1342.3 261.4h6.5M1377.2 261.4h6.5M1412.0 261.4h6.5M1080.8 278.8h6.5M1115.7 278.8h6.5M1150.5 278.8h6.5M1185.4 278.8h6.5M1220.3 278.8h6.5M1255.1 278.8h6.5M1290.0 278.8h6.5M1324.9 278.8h6.5M1359.8 278.8h6.5M1394.6 278.8h6.5M1429.5 278.8h6.5M1098.2 296.2h6.5M1133.1 296.2h6.5M1167.9 296.2h6.5M1202.8 296.2h6.5M1237.7 296.2h6.5M1272.5 296.2h6.5M1307.4 296.2h6.5M1342.3 296.2h6.5M1377.2 296.2h6.5M1412.0 296.2h6.5M1080.8 313.7h6.5M1115.7 313.7h6.5M1150.5 313.7h6.5M1185.4 313.7h6.5M1220.3 313.7h6.5M1255.1 313.7h6.5M1290.0 313.7h6.5M1324.9 313.7h6.5M1359.8 313.7h6.5M1394.6 313.7h6.5M1429.5 313.7h6.5M1098.2 331.1h6.5M1133.1 331.1h6.5M1167.9 331.1h6.5M1202.8 331.1h6.5M1237.7 331.1h6.5M1272.5 331.1h6.5M1307.4 331.1h6.5M1342.3 331.1h6.5M1377.2 331.1h6.5M1412.0 331.1h6.5M1080.8 348.6h6.5M1115.7 348.6h6.5M1150.5 348.6h6.5M1185.4 348.6h6.5M1220.3 348.6h6.5M1255.1 348.6h6.5M1290.0 348.6h6.5M1324.9 348.6h6.5M1359.8 348.6h6.5M1394.6 348.6h6.5M1429.5 348.6h6.5M1098.2 366.0h6.5M1133.1 366.0h6.5M1167.9 366.0h6.5M1202.8 366.0h6.5M1237.7 366.0h6.5M1272.5 366.0h6.5M1307.4 366.0h6.5M1342.3 366.0h6.5M1377.2 366.0h6.5M1412.0 366.0h6.5M1080.8 383.5h6.5M1115.7 383.5h6.5M1150.5 383.5h6.5M1185.4 383.5h6.5M1220.3 383.5h6.5M1255.1 383.5h6.5M1290.0 383.5h6.5M1324.9 383.5h6.5M1359.8 383.5h6.5M1394.6 383.5h6.5M1429.5 383.5h6.5M1098.2 401.0h6.5M1133.1 401.0h6.5M1167.9 401.0h6.5M1202.8 401.0h6.5M1237.7 401.0h6.5M1272.5 401.0h6.5M1307.4 401.0h6.5M1342.3 401.0h6.5M1377.2 401.0h6.5M1412.0 401.0h6.5M1080.8 418.4h6.5M1115.7 418.4h6.5M1150.5 418.4h6.5M1185.4 418.4h6.5M1220.3 418.4h6.5M1255.1 418.4h6.5M1290.0 418.4h6.5M1324.9 418.4h6.5M1359.8 418.4h6.5M1394.6 418.4h6.5M1429.5 418.4h6.5M1080.8 437.0h6.5M1115.7 437.0h6.5M1150.5 437.0h6.5M1185.4 437.0h6.5M1220.3 437.0h6.5M1255.1 437.0h6.5M1290.0 437.0h6.5M1324.9 437.0h6.5M1359.8 437.0h6.5M1394.6 437.0h6.5M1429.5 437.0h6.5M1098.2 454.4h6.5M1133.1 454.4h6.5M1167.9 454.4h6.5M1202.8 454.4h6.5M1237.7 454.4h6.5M1272.5 454.4h6.5M1307.4 454.4h6.5M1342.3 454.4h6.5M1377.2 454.4h6.5M1412.0 454.4h6.5M1080.8 471.9h6.5M1115.7 471.9h6.5M1150.5 471.9h6.5M1185.4 471.9h6.5M1220.3 471.9h6.5M1255.1 471.9h6.5M1290.0 471.9h6.5M1324.9 471.9h6.5M1359.8 471.9h6.5M1394.6 471.9h6.5M1429.5 471.9h6.5M1098.2 489.4h6.5M1133.1 489.4h6.5M1167.9 489.4h6.5M1202.8 489.4h6.5M1237.7 489.4h6.5M1272.5 489.4h6.5M1307.4 489.4h6.5M1342.3 489.4h6.5M1377.2 489.4h6.5M1412.0 489.4h6.5M1080.8 506.8h6.5M1115.7 506.8h6.5M1150.5 506.8h6.5M1185.4 506.8h6.5M1220.3 506.8h6.5M1255.1 506.8h6.5M1290.0 506.8h6.5M1324.9 506.8h6.5M1359.8 506.8h6.5M1394.6 506.8h6.5M1429.5 506.8h6.5M1098.2 524.2h6.5M1133.1 524.2h6.5M1167.9 524.2h6.5M1202.8 524.2h6.5M1237.7 524.2h6.5M1272.5 524.2h6.5M1307.4 524.2h6.5M1342.3 524.2h6.5M1377.2 524.2h6.5M1412.0 524.2h6.5M1080.8 541.7h6.5M1115.7 541.7h6.5M1150.5 541.7h6.5M1185.4 541.7h6.5M1220.3 541.7h6.5M1255.1 541.7h6.5M1290.0 541.7h6.5M1324.9 541.7h6.5M1359.8 541.7h6.5M1394.6 541.7h6.5M1429.5 541.7h6.5M1098.2 559.1h6.5M1133.1 559.1h6.5M1167.9 559.1h6.5M1202.8 559.1h6.5M1237.7 559.1h6.5M1272.5 559.1h6.5M1307.4 559.1h6.5M1342.3 559.1h6.5M1377.2 559.1h6.5M1412.0 559.1h6.5M1080.8 576.6h6.5M1115.7 576.6h6.5M1150.5 576.6h6.5M1185.4 576.6h6.5M1220.3 576.6h6.5M1255.1 576.6h6.5M1290.0 576.6h6.5M1324.9 576.6h6.5M1359.8 576.6h6.5M1394.6 576.6h6.5M1429.5 576.6h6.5M1098.2 594.0h6.5M1133.1 594.0h6.5M1167.9 594.0h6.5M1202.8 594.0h6.5M1237.7 594.0h6.5M1272.5 594.0h6.5M1307.4 594.0h6.5M1342.3 594.0h6.5M1377.2 594.0h6.5M1412.0 594.0h6.5M1080.8 611.5h6.5M1115.7 611.5h6.5M1150.5 611.5h6.5M1185.4 611.5h6.5M1220.3 611.5h6.5M1255.1 611.5h6.5M1290.0 611.5h6.5M1324.9 611.5h6.5M1359.8 611.5h6.5M1394.6 611.5h6.5M1429.5 611.5h6.5M1098.2 629.0h6.5M1133.1 629.0h6.5M1167.9 629.0h6.5M1202.8 629.0h6.5M1237.7 629.0h6.5M1272.5 629.0h6.5M1307.4 629.0h6.5M1342.3 629.0h6.5M1377.2 629.0h6.5M1412.0 629.0h6.5M1080.8 646.4h6.5M1115.7 646.4h6.5M1150.5 646.4h6.5M1185.4 646.4h6.5M1220.3 646.4h6.5M1255.1 646.4h6.5M1290.0 646.4h6.5M1324.9 646.4h6.5M1359.8 646.4h6.5M1394.6 646.4h6.5M1429.5 646.4h6.5M1098.2 663.9h6.5M1133.1 663.9h6.5M1167.9 663.9h6.5M1202.8 663.9h6.5M1237.7 663.9h6.5M1272.5 663.9h6.5M1307.4 663.9h6.5M1342.3 663.9h6.5M1377.2 663.9h6.5M1412.0 663.9h6.5M1080.8 681.3h6.5M1115.7 681.3h6.5M1150.5 681.3h6.5M1185.4 681.3h6.5M1220.3 681.3h6.5M1255.1 681.3h6.5M1290.0 681.3h6.5M1324.9 681.3h6.5M1359.8 681.3h6.5M1394.6 681.3h6.5M1429.5 681.3h6.5M1098.2 698.8h6.5M1133.1 698.8h6.5M1167.9 698.8h6.5M1202.8 698.8h6.5M1237.7 698.8h6.5M1272.5 698.8h6.5M1307.4 698.8h6.5M1342.3 698.8h6.5M1377.2 698.8h6.5M1412.0 698.8h6.5M1080.8 716.2h6.5M1115.7 716.2h6.5M1150.5 716.2h6.5M1185.4 716.2h6.5M1220.3 716.2h6.5M1255.1 716.2h6.5M1290.0 716.2h6.5M1324.9 716.2h6.5M1359.8 716.2h6.5M1394.6 716.2h6.5M1429.5 716.2h6.5M1098.2 733.6h6.5M1133.1 733.6h6.5M1167.9 733.6h6.5M1202.8 733.6h6.5M1237.7 733.6h6.5M1272.5 733.6h6.5M1307.4 733.6h6.5M1342.3 733.6h6.5M1377.2 733.6h6.5M1412.0 733.6h6.5M1080.8 751.1h6.5M1115.7 751.1h6.5M1150.5 751.1h6.5M1185.4 751.1h6.5M1220.3 751.1h6.5M1255.1 751.1h6.5M1290.0 751.1h6.5M1324.9 751.1h6.5M1359.8 751.1h6.5M1394.6 751.1h6.5M1429.5 751.1h6.5M1098.2 768.5h6.5M1133.1 768.5h6.5M1167.9 768.5h6.5M1202.8 768.5h6.5M1237.7 768.5h6.5M1272.5 768.5h6.5M1307.4 768.5h6.5M1342.3 768.5h6.5M1377.2 768.5h6.5M1412.0 768.5h6.5M1080.8 786.0h6.5M1115.7 786.0h6.5M1150.5 786.0h6.5M1185.4 786.0h6.5M1220.3 786.0h6.5M1255.1 786.0h6.5M1290.0 786.0h6.5M1324.9 786.0h6.5M1359.8 786.0h6.5M1394.6 786.0h6.5M1429.5 786.0h6.5" stroke="rgba(20,22,32,0.52)" stroke-width="1.4" fill="none"/>
<rect x="1080" y="785" width="357" height="1.5" fill="rgba(80,90,105,0.85)"/>
<rect x="153.0" y="403.3" width="70.5" height="3.6" fill="#fbfbf6"/>
<text x="189.0" y="398.0" class="sb">1km</text>
<rect x="153.0" y="771.3" width="70.5" height="3.6" fill="#fbfbf6"/>
<text x="189.0" y="766.0" class="sb">1km</text>
<rect x="625.0" y="403.3" width="70.5" height="3.6" fill="#fbfbf6"/>
<text x="661.0" y="398.0" class="sb">1km</text>
<rect x="625.0" y="771.3" width="70.5" height="3.6" fill="#fbfbf6"/>
<text x="661.0" y="766.0" class="sb">1km</text>
<rect x="1094.0" y="403.3" width="70.5" height="3.6" fill="#fbfbf6"/>
<text x="1130.0" y="398.0" class="sb">1km</text>
<rect x="1094.0" y="771.3" width="70.5" height="3.6" fill="#fbfbf6"/>
<text x="1130.0" y="766.0" class="sb">1km</text>
<g filter="url(#cmA)"><rect x="502.2" y="69.2" width="23.4" height="717.1" fill="url(#l20)"/></g>
<rect x="502.2" y="69.2" width="23.4" height="717.1" fill="none" stroke="#1c1c1c" stroke-width="1.4"/>
<g filter="url(#cmB)"><rect x="973.6" y="69.2" width="23.4" height="717.1" fill="url(#l20)"/></g>
<rect x="973.6" y="69.2" width="23.4" height="717.1" fill="none" stroke="#1c1c1c" stroke-width="1.4"/>
<g filter="url(#cmC)"><rect x="1445.6" y="69.2" width="23.4" height="717.1" fill="url(#l20)"/></g>
<rect x="1445.6" y="69.2" width="23.4" height="717.1" fill="none" stroke="#1c1c1c" stroke-width="1.4"/>
<path d="M525.6 116.8h-6.5" stroke="#262626" stroke-width="1.3"/>
<text x="533.2" y="125.2" class="tk">20</text>
<path d="M525.6 212.4h-6.5" stroke="#262626" stroke-width="1.3"/>
<text x="533.2" y="220.8" class="tk">10</text>
<path d="M525.6 308.0h-6.5" stroke="#262626" stroke-width="1.3"/>
<text x="533.2" y="316.4" class="tk">0</text>
<path d="M525.6 403.6h-6.5" stroke="#262626" stroke-width="1.3"/>
<text x="533.2" y="412.0" class="tk">-10</text>
<path d="M525.6 499.2h-6.5" stroke="#262626" stroke-width="1.3"/>
<text x="533.2" y="507.6" class="tk">-20</text>
<path d="M525.6 594.8h-6.5" stroke="#262626" stroke-width="1.3"/>
<text x="533.2" y="603.2" class="tk">-30</text>
<path d="M525.6 690.4h-6.5" stroke="#262626" stroke-width="1.3"/>
<text x="533.2" y="698.8" class="tk">-40</text>
<text x="533.2" y="795.6" class="tk">-50</text>
<path d="M997.0 75.2h-6.5" stroke="#262626" stroke-width="1.3"/>
<text x="1005.0" y="83.6" class="tk">8</text>
<path d="M997.0 164.7h-6.5" stroke="#262626" stroke-width="1.3"/>
<text x="1005.0" y="173.1" class="tk">7</text>
<path d="M997.0 254.2h-6.5" stroke="#262626" stroke-width="1.3"/>
<text x="1005.0" y="262.6" class="tk">6</text>
<path d="M997.0 343.7h-6.5" stroke="#262626" stroke-width="1.3"/>
<text x="1005.0" y="352.1" class="tk">5</text>
<path d="M997.0 433.2h-6.5" stroke="#262626" stroke-width="1.3"/>
<text x="1005.0" y="441.6" class="tk">4</text>
<path d="M997.0 522.7h-6.5" stroke="#262626" stroke-width="1.3"/>
<text x="1005.0" y="531.1" class="tk">3</text>
<path d="M997.0 612.2h-6.5" stroke="#262626" stroke-width="1.3"/>
<text x="1005.0" y="620.6" class="tk">2</text>
<path d="M997.0 701.7h-6.5" stroke="#262626" stroke-width="1.3"/>
<text x="1005.0" y="710.1" class="tk">1</text>
<path d="M1469.0 198.4h-6.5" stroke="#262626" stroke-width="1.3"/>
<text x="1477.0" y="206.8" class="tk">1.025</text>
<path d="M1469.0 353.6h-6.5" stroke="#262626" stroke-width="1.3"/>
<text x="1477.0" y="362.0" class="tk">1.02</text>
<path d="M1469.0 508.8h-6.5" stroke="#262626" stroke-width="1.3"/>
<text x="1477.0" y="517.2" class="tk">1.015</text>
<path d="M1469.0 664.0h-6.5" stroke="#262626" stroke-width="1.3"/>
<text x="1477.0" y="672.4" class="tk">1.01</text>
<text x="999" y="56.8" class="tk" style="font-size:22px">&#215;10</text>
<text x="1045" y="46" class="tk" style="font-size:17px">-6</text>
<text x="199.0" y="31.5" class="ti" textLength="231.0" lengthAdjust="spacingAndGlyphs">Bed elevation (m)</text>
<text x="604.5" y="33.2" class="ti" textLength="157.5" lengthAdjust="spacingAndGlyphs">Slipperiness,</text>
<text x="772.5" y="33.2" class="ti" textLength="31.5" lengthAdjust="spacingAndGlyphs" style="font-style:italic">C,</text>
<text x="810.5" y="33.2" class="ti">(</text>
<text x="819.5" y="33.2" class="ti" textLength="57.0" lengthAdjust="spacingAndGlyphs" style="font-style:italic">myr</text>
<text x="876.5" y="20.3" class="ti" textLength="25.0" lengthAdjust="spacingAndGlyphs" style="font-size:21px">&#8722;1</text>
<text x="903.5" y="33.2" class="ti" textLength="56.0" lengthAdjust="spacingAndGlyphs" style="font-style:italic">kPa</text>
<text x="960.0" y="20.3" class="ti" textLength="25.0" lengthAdjust="spacingAndGlyphs" style="font-size:21px">&#8722;3</text>
<text x="986.5" y="33.2" class="ti">)</text>
<text x="1094.5" y="35.0" class="ti" textLength="204.5" lengthAdjust="spacingAndGlyphs">Surface velocity</text>
<text x="1309.5" y="35.0" class="ti">(</text>
<text x="1319.5" y="35.0" class="ti" textLength="56.0" lengthAdjust="spacingAndGlyphs" style="font-style:italic">myr</text>
<text x="1377.0" y="21.4" class="ti" textLength="24.5" lengthAdjust="spacingAndGlyphs" style="font-size:21px">&#8722;1</text>
<text x="1403.0" y="35.0" class="ti">)</text>
<text x="101.5" y="101.6" class="pl">A</text>
<text x="579.5" y="101.6" class="pl">B</text>
<text x="1048.0" y="101.8" class="pl">C</text>
<text x="103.0" y="462.2" class="pl">D</text>
<text x="579.3" y="462.2" class="pl">E</text>
<text x="1048.3" y="462.2" class="pl">F</text>
<text transform="translate(38.4,244.2) rotate(-90)" class="rl" text-anchor="middle" textLength="137.0" lengthAdjust="spacingAndGlyphs">synthetic</text>
<text transform="translate(74.8,242.4) rotate(-90)" class="rl" text-anchor="middle" textLength="189.0" lengthAdjust="spacingAndGlyphs">observations</text>
<text transform="translate(29.1,610.7) rotate(-90)" class="rl" text-anchor="middle" textLength="322.0" lengthAdjust="spacingAndGlyphs">results from inversion</text>
<text transform="translate(65.2,610.7) rotate(-90)" class="rl" text-anchor="middle" textLength="216.5" lengthAdjust="spacingAndGlyphs">over uniformly</text>
<text transform="translate(102.2,611.2) rotate(-90)" class="rl" text-anchor="middle" textLength="179.5" lengthAdjust="spacingAndGlyphs">inclined bed</text>
</svg></body></html>
